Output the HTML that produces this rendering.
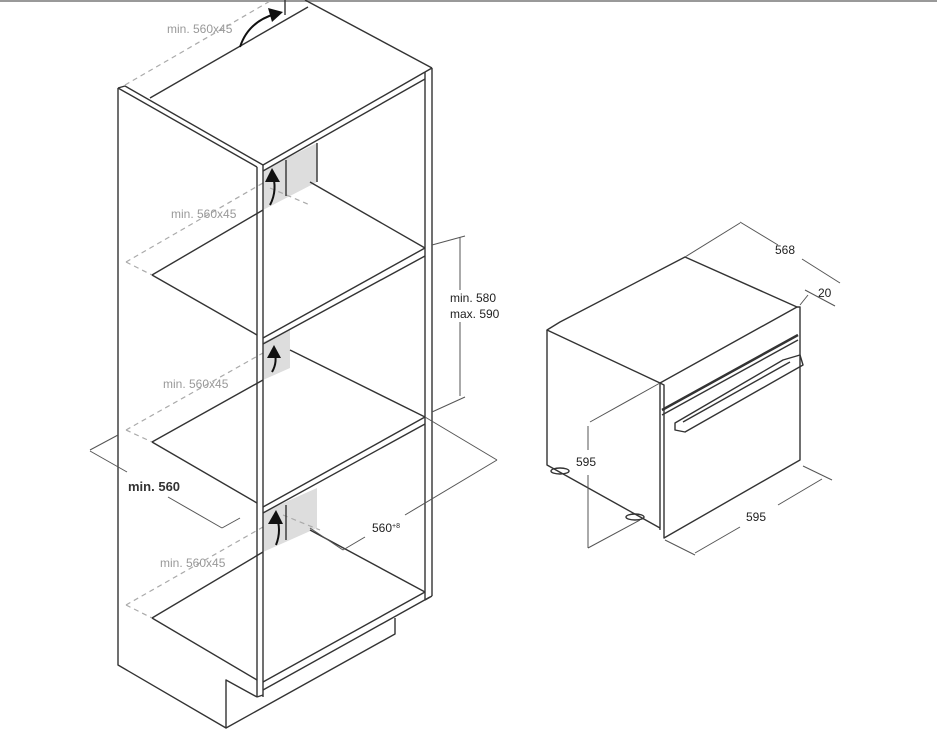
<!DOCTYPE html>
<html><head><meta charset="utf-8"><style>
html,body{margin:0;padding:0;background:#fff;}
svg{display:block;}
text{font-family:"Liberation Sans",sans-serif;}
</style></head><body>
<svg width="937" height="755" viewBox="0 0 937 755" xmlns="http://www.w3.org/2000/svg">
<line x1="0" y1="1" x2="937" y2="1" stroke="#999" stroke-width="2"/>
<g fill="#ddd" stroke="none">
<polygon points="263,170 317,143 317,182 263,210"/>
<polygon points="263,342 290,330 290,368 263,380"/>
<polygon points="263,512 317,488 317,528 263,552"/>
</g>
<g stroke="#aaa" stroke-width="1.2" stroke-dasharray="5,4" fill="none">
<line x1="125" y1="85" x2="272" y2="0"/>
<line x1="126" y1="262" x2="263" y2="183"/><line x1="126" y1="262" x2="152" y2="275"/>
<line x1="126" y1="430" x2="263" y2="353"/><line x1="126" y1="430" x2="152" y2="442"/>
<line x1="126" y1="605" x2="263" y2="527"/><line x1="126" y1="605" x2="152" y2="618"/>
<line x1="270" y1="188" x2="310" y2="205"/>
<line x1="283" y1="515" x2="320" y2="530"/>
</g>
<g stroke="#333" stroke-width="1.4" fill="none" stroke-linejoin="round">
<polyline points="118,88 118,665 226,728 226,680 257,697"/>
<line x1="118" y1="88" x2="257" y2="167"/>
<line x1="118" y1="88" x2="125" y2="86"/>
<line x1="125" y1="86" x2="263" y2="165"/>
<line x1="257" y1="167" x2="257" y2="697"/>
<line x1="263" y1="165" x2="263" y2="697"/>
<line x1="257" y1="697" x2="263" y2="695"/>
<polyline points="226,728 395,634 395,618"/>
<line x1="425" y1="72" x2="425" y2="600"/>
<line x1="432" y1="68" x2="432" y2="596"/>
<line x1="425" y1="600" x2="432" y2="596"/>
<line x1="263" y1="165" x2="425" y2="72"/>
<line x1="263" y1="171" x2="425" y2="79"/>
<line x1="425" y1="72" x2="432" y2="68"/>
<line x1="305" y1="0" x2="432" y2="68"/>
<line x1="150" y1="98" x2="308" y2="7"/>
<line x1="285" y1="0" x2="285" y2="15"/>
<line x1="263" y1="338" x2="425" y2="248"/>
<line x1="263" y1="344" x2="425" y2="256"/>
<line x1="152" y1="275" x2="263" y2="210"/>
<line x1="310" y1="182" x2="425" y2="248"/>
<line x1="152" y1="275" x2="257" y2="335"/>
<line x1="263" y1="507" x2="425" y2="417"/>
<line x1="263" y1="513" x2="425" y2="424"/>
<line x1="152" y1="442" x2="263" y2="380"/>
<line x1="290" y1="350" x2="425" y2="417"/>
<line x1="152" y1="442" x2="257" y2="503"/>
<line x1="263" y1="682" x2="425" y2="592"/>
<line x1="263" y1="690" x2="430" y2="597"/>
<line x1="152" y1="618" x2="263" y2="552"/>
<line x1="310" y1="530" x2="425" y2="592"/>
<line x1="152" y1="618" x2="257" y2="680"/>
<line x1="317" y1="143" x2="317" y2="182"/>
<line x1="286" y1="160" x2="286" y2="196"/>
<line x1="286" y1="505" x2="286" y2="540"/>
</g>
<g stroke="#111" stroke-width="2" fill="none">
<path d="M240,47 Q248,22 275,14"/>
<path d="M270,205 Q278,190 272,172"/>
<path d="M272,372 Q278,362 274,350"/>
<path d="M276,545 Q282,530 276,515"/>
</g>
<g fill="#111">
<polygon points="283,12 268,8 272,22"/>
<polygon points="272,168 265,182 280,182"/>
<polygon points="274,345 267,358 281,358"/>
<polygon points="276,510 268,524 283,524"/>
</g>
<g stroke="#555" stroke-width="1" fill="none">
<line x1="432" y1="245" x2="465" y2="236"/>
<line x1="432" y1="412" x2="465" y2="397"/>
<line x1="460" y1="237" x2="460" y2="290"/><line x1="460" y1="322" x2="460" y2="396"/>
<line x1="90" y1="450" x2="118" y2="435"/>
<line x1="90" y1="451" x2="127" y2="472"/><line x1="168" y1="497" x2="222" y2="528"/>
<line x1="222" y1="528" x2="240" y2="518"/>
<line x1="425" y1="417" x2="497" y2="460"/>
<line x1="310" y1="528" x2="343" y2="550"/>
<line x1="343" y1="550" x2="365" y2="537"/><line x1="405" y1="515" x2="497" y2="460"/>
</g>
<g fill="#999" font-size="12">
<text x="167" y="33">min. 560x45</text>
<text x="171" y="218">min. 560x45</text>
<text x="163" y="388">min. 560x45</text>
<text x="160" y="567">min. 560x45</text>
</g>
<g fill="#222" font-size="12">
<text x="450" y="302">min. 580</text>
<text x="450" y="318">max. 590</text>
<text x="128" y="491" font-size="13" font-weight="bold" fill="#333">min. 560</text>
<text x="372" y="532">560<tspan font-size="7" dy="-4">+8</tspan></text>
</g>
<g stroke="#333" stroke-width="1.4" fill="none" stroke-linejoin="round">
<polygon points="547,330 560,322 685,257 797,307 660,383"/>
<polyline points="547,330 547,465 660,528"/>
<line x1="660" y1="383" x2="660" y2="530"/>
<polyline points="660,383 664,385 664,538 800,460 800,307 797,307"/>
<line x1="662" y1="410" x2="798" y2="335" stroke-width="2.5"/>
<line x1="662" y1="415" x2="798" y2="340"/>
<polygon points="675,423 783,360 800,355 803,365 685,432 675,430"/>
<line x1="683" y1="422" x2="790" y2="362"/>
<ellipse cx="560" cy="471" rx="9" ry="3"/>
<ellipse cx="635" cy="517" rx="9" ry="3"/>
</g>
<g stroke="#555" stroke-width="1" fill="none">
<line x1="685" y1="257" x2="740" y2="223"/>
<line x1="740" y1="222" x2="778" y2="245"/><line x1="802" y1="259" x2="840" y2="283"/>
<line x1="800" y1="305" x2="808" y2="295"/>
<line x1="805" y1="290" x2="835" y2="306"/>
<line x1="590" y1="422" x2="660" y2="383"/>
<line x1="588" y1="426" x2="588" y2="450"/><line x1="588" y1="475" x2="588" y2="548"/>
<line x1="588" y1="548" x2="640" y2="520"/>
<line x1="665" y1="540" x2="695" y2="555"/>
<line x1="803" y1="466" x2="832" y2="480"/>
<line x1="695" y1="553" x2="740" y2="527"/><line x1="778" y1="505" x2="822" y2="479"/>
</g>
<g fill="#222" font-size="12">
<text x="775" y="254">568</text>
<text x="818" y="297">20</text>
<text x="576" y="466">595</text>
<text x="746" y="521">595</text>
</g>
</svg>
</body></html>
